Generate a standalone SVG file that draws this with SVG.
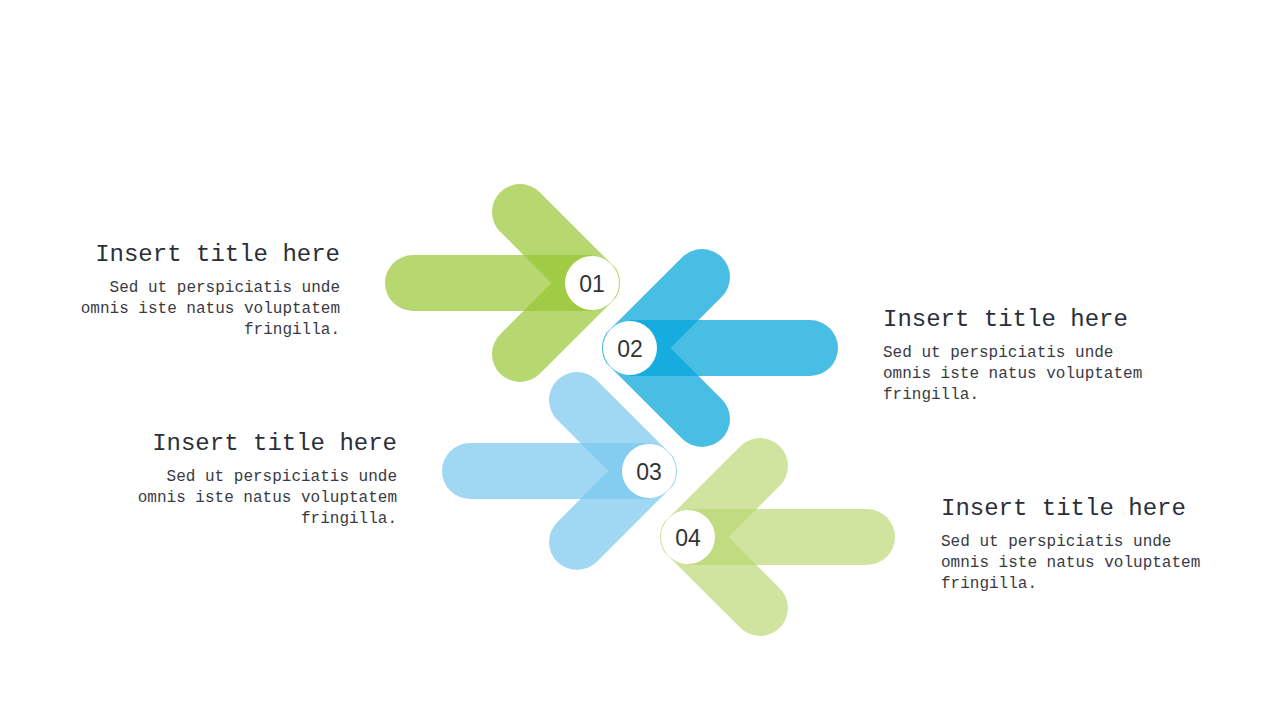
<svg xmlns="http://www.w3.org/2000/svg" width="1280" height="720" viewBox="0 0 1280 720">
<style>
.g1{fill:#98c633;opacity:0.7}
.b2{fill:#06a6dc;opacity:0.73}
.lb{fill:#77c7ee;opacity:0.7}
.lg{fill:#b8d66f;opacity:0.66}
.circ{fill:#ffffff}
.num{font-family:"Liberation Sans",Arial,sans-serif;font-size:23px;fill:#333333;text-anchor:middle}
.title{font-family:"Liberation Mono","DejaVu Sans Mono",monospace;font-size:24px;fill:#2b2f3a}
.body{font-family:"Liberation Mono","DejaVu Sans Mono",monospace;font-size:16px;fill:#3a3a44}
.r{text-anchor:end}
</style>
<rect width="1280" height="720" fill="#ffffff"/>
<g id="node-01">
<path class="g1" d="M592,255 H413 A28,28 0 0 0 413,311 H592 Z"/>
<path class="g1" d="M539.8,192.2 A28,28 0 0 0 500.2,231.8 L551.4,283 L620,283 A28,28 0 0 0 615.72,268.12 Z"/>
<path class="g1" d="M539.8,373.8 A28,28 0 0 1 500.2,334.2 L551.4,283 L620,283 A28,28 0 0 1 615.72,297.88 Z"/>
<circle class="circ" cx="592" cy="283" r="27"/>
<text class="num" x="592" y="291.5">01</text>
</g>
<g id="node-02">
<path class="b2" d="M630,320 H810 A28,28 0 0 1 810,376 H630 Z"/>
<path class="b2" d="M682.2,257.2 A28,28 0 0 1 721.8,296.8 L670.6,348 L602,348 A28,28 0 0 1 606.28,333.12 Z"/>
<path class="b2" d="M682.2,438.8 A28,28 0 0 0 721.8,399.2 L670.6,348 L602,348 A28,28 0 0 0 606.28,362.88 Z"/>
<circle class="circ" cx="630" cy="348" r="27"/>
<text class="num" x="630" y="356.5">02</text>
</g>
<g id="node-03">
<path class="lb" d="M649,443 H470 A28,28 0 0 0 470,499 H649 Z"/>
<path class="lb" d="M596.8,380.2 A28,28 0 0 0 557.2,419.8 L608.4,471 L677,471 A28,28 0 0 0 672.72,456.12 Z"/>
<path class="lb" d="M596.8,561.8 A28,28 0 0 1 557.2,522.2 L608.4,471 L677,471 A28,28 0 0 1 672.72,485.88 Z"/>
<circle class="circ" cx="649" cy="471" r="27"/>
<text class="num" x="649" y="479.5">03</text>
</g>
<g id="node-04">
<path class="lg" d="M688,509 H867 A28,28 0 0 1 867,565 H688 Z"/>
<path class="lg" d="M740.2,446.2 A28,28 0 0 1 779.8,485.8 L728.6,537 L660,537 A28,28 0 0 1 664.28,522.12 Z"/>
<path class="lg" d="M740.2,627.8 A28,28 0 0 0 779.8,588.2 L728.6,537 L660,537 A28,28 0 0 0 664.28,551.88 Z"/>
<circle class="circ" cx="688" cy="537" r="27"/>
<text class="num" x="688" y="545.5">04</text>
</g>
<g id="text-01">
<text class="title r" x="340" y="261">Insert title here</text>
<text class="body r" x="340" y="292">Sed ut perspiciatis unde</text>
<text class="body r" x="340" y="313">omnis iste natus voluptatem</text>
<text class="body r" x="340" y="334">fringilla.</text>
</g>
<g id="text-02">
<text class="title" x="883" y="326">Insert title here</text>
<text class="body" x="883" y="357">Sed ut perspiciatis unde</text>
<text class="body" x="883" y="378">omnis iste natus voluptatem</text>
<text class="body" x="883" y="399">fringilla.</text>
</g>
<g id="text-03">
<text class="title r" x="397" y="450">Insert title here</text>
<text class="body r" x="397" y="481">Sed ut perspiciatis unde</text>
<text class="body r" x="397" y="502">omnis iste natus voluptatem</text>
<text class="body r" x="397" y="523">fringilla.</text>
</g>
<g id="text-04">
<text class="title" x="941" y="515">Insert title here</text>
<text class="body" x="941" y="546">Sed ut perspiciatis unde</text>
<text class="body" x="941" y="567">omnis iste natus voluptatem</text>
<text class="body" x="941" y="588">fringilla.</text>
</g>
<g id="connectors"></g>
</svg>
